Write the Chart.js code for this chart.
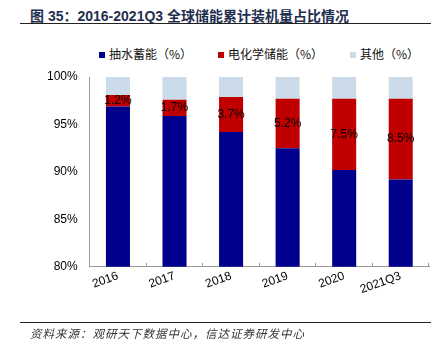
<!DOCTYPE html>
<html>
<head>
<meta charset="utf-8">
<script src="https://cdn.jsdelivr.net/npm/chart.js@4"></script>
<style>
  html, body { margin: 0; padding: 0; background: #fff; }
  #wrap { position: relative; width: 446px; height: 353px; overflow: hidden; }
  #chart { position: absolute; left: 0; top: 0; }
  .title { position: absolute; left: 30px; top: 5px; font: bold 14px "Liberation Sans", "Noto Sans CJK SC", sans-serif; color: #1f2f4f; white-space: nowrap; }
  .rule { position: absolute; left: 20px; width: 411px; height: 1px; background: #222; }
  .legend { position: absolute; top: 45px; font: 12px "Noto Sans CJK SC", sans-serif; color: #111; white-space: nowrap; }
  .legend span.sw { display: inline-block; width: 6px; height: 6px; margin-right: 4px; vertical-align: 1px; }
  .source { position: absolute; left: 30px; top: 325px; font: italic 11.5px "Noto Sans CJK SC", sans-serif; color: #333; letter-spacing: 1px; white-space: nowrap; }
</style>
</head>
<body>
<div id="wrap">
  <div class="title">图 35：2016-2021Q3 全球储能累计装机量占比情况</div>
  <div class="rule" style="top:23px"></div>
  <div id="legend"></div>
  <canvas id="chart" width="446" height="353"></canvas>
  <div class="rule" style="top:322px"></div>
  <div class="source">资料来源：观研天下数据中心，信达证券研发中心</div>
</div>
<script>
// data (percent)
const years = ['2016', '2017', '2018', '2019', '2020', '2021Q3'];
const pumped = [96.9, 95.9, 94.2, 92.5, 90.2, 89.2];
const electro = [1.2, 1.7, 3.7, 5.2, 7.5, 8.5];
const other = [1.9, 2.4, 2.1, 2.3, 2.3, 2.3];
const seriesNames = ['抽水蓄能（%）', '电化学储能（%）', '其他（%）'];
const yTicks = [80, 85, 90, 95, 100];

const colors = {
    navy: '#00008c',
    red: '#c00000',
    light: '#ccdbea',
    axis: '#9a9a9a'
};

// HTML legend built from the series
const legendX = [99, 218, 350];
const legendColors = [colors.navy, colors.red, colors.light];
const legendEl = document.getElementById('legend');
seriesNames.forEach((name, i) => {
    const d = document.createElement('div');
    d.className = 'legend';
    d.style.left = legendX[i] + 'px';
    d.innerHTML = '<span class="sw" style="background:' + legendColors[i] + '"></span>' + name;
    legendEl.appendChild(d);
});

// value labels centred on the red segment
const segmentLabels = {
    id: 'segmentLabels',
    afterDatasetsDraw(chart) {
        const ctx = chart.ctx;
        const meta = chart.getDatasetMeta(1);
        ctx.save();
        ctx.font = '12px "Liberation Sans", Arial, sans-serif';
        ctx.fillStyle = '#000';
        ctx.textAlign = 'center';
        ctx.textBaseline = 'middle';
        meta.data.forEach((bar, i) => {
            ctx.fillText(electro[i].toFixed(1) + '%', bar.x, (bar.y + bar.base) / 2);
        });
        ctx.restore();
    }
};

new Chart(document.getElementById('chart'), {
    type: 'bar',
    data: {
        labels: years,
        datasets: [
            { label: seriesNames[0], data: pumped, backgroundColor: colors.navy },
            { label: seriesNames[1], data: electro, backgroundColor: colors.red },
            { label: seriesNames[2], data: other, backgroundColor: colors.light }
        ]
    },
    options: {
        responsive: false,
        animation: false,
        layout: { padding: { left: 35, right: 17, top: 77, bottom: 50 } },
        datasets: { bar: { barPercentage: 0.85, categoryPercentage: 0.5 } },
        plugins: {
            legend: { display: false },
            tooltip: { enabled: false }
        },
        scales: {
            x: {
                stacked: true,
                grid: { drawOnChartArea: false, drawTicks: true, tickLength: -4, color: colors.axis },
                border: { color: colors.axis },
                ticks: {
                    color: '#000',
                    font: { family: '"Liberation Sans", Arial, sans-serif', size: 12 },
                    minRotation: 20,
                    maxRotation: 20,
                    padding: 6
                }
            },
            y: {
                stacked: true,
                min: 80,
                max: 100,
                afterBuildTicks: (axis) => { axis.ticks = yTicks.map(v => ({ value: v })); },
                grid: { display: false, drawTicks: false },
                border: { display: true, color: colors.axis },
                ticks: {
                    color: '#000',
                    padding: 12,
                    font: { family: '"Liberation Sans", Arial, sans-serif', size: 12 },
                    callback: (v) => v + '%'
                }
            }
        }
    },
    plugins: [segmentLabels]
});
</script>
</body>
</html>
